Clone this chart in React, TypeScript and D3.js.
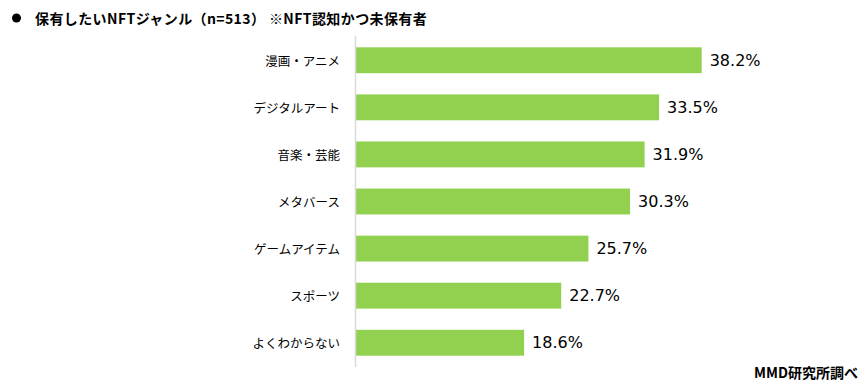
import * as d3 from 'd3';
import { useEffect, useRef } from 'react';

const categories = [
  '漫画・アニメ',
  'デジタルアート',
  '音楽・芸能',
  'メタバース',
  'ゲームアイテム',
  'スポーツ',
  'よくわからない',
];
const values = [38.2, 33.5, 31.9, 30.3, 25.7, 22.7, 18.6];

const title = '保有したいNFTジャンル（n=513） ※NFT認知かつ未保有者';
const source = 'MMD研究所調べ';

const width = 868;
const height = 389;
const jpFont = '"Noto Sans CJK JP", "Noto Sans", sans-serif';

const App = () => {
  const ref = useRef<SVGSVGElement>(null);

  useEffect(() => {
    const svg = d3.select(ref.current);
    svg.selectAll('*').remove();

    const data = categories.map((c, i) => ({ category: c, value: values[i] }));

    const x = d3.scaleLinear().domain([0, 40]).range([355.5, 718]);

    const y = d3
      .scaleBand()
      .domain(categories)
      .range([36, 367])
      .paddingInner(0.45)
      .paddingOuter(0.24);

    // title
    svg
      .append('circle')
      .attr('cx', 16.5)
      .attr('cy', 18)
      .attr('r', 4.5)
      .attr('fill', '#000');
    svg
      .append('text')
      .attr('x', 35)
      .attr('y', 18)
      .attr('dominant-baseline', 'central')
      .attr('font-family', jpFont)
      .attr('font-weight', 'bold')
      .attr('font-size', 14)
      .attr('letter-spacing', 0.4)
      .attr('fill', '#000')
      .text(title);

    // bars
    svg
      .append('g')
      .selectAll('rect')
      .data(data)
      .join('rect')
      .attr('x', x(0))
      .attr('y', (d) => y(d.category))
      .attr('width', (d) => x(d.value) - x(0))
      .attr('height', y.bandwidth())
      .attr('fill', '#92d050');

    // axis line
    svg
      .append('line')
      .attr('x1', x(0))
      .attr('x2', x(0))
      .attr('y1', y.range()[0])
      .attr('y2', y.range()[1])
      .attr('stroke', '#d9d9d9')
      .attr('stroke-width', 1.5);

    // category labels
    svg
      .append('g')
      .selectAll('text')
      .data(data)
      .join('text')
      .attr('x', 340)
      .attr('y', (d) => y(d.category) + y.bandwidth() / 2)
      .attr('text-anchor', 'end')
      .attr('dominant-baseline', 'central')
      .attr('font-family', jpFont)
      .attr('font-size', 12.5)
      .attr('fill', '#000')
      .text((d) => d.category);

    // value labels
    svg
      .append('g')
      .selectAll('text')
      .data(data)
      .join('text')
      .attr('x', (d) => x(d.value) + 8)
      .attr('y', (d) => y(d.category) + y.bandwidth() / 2)
      .attr('dominant-baseline', 'central')
      .attr('font-family', '"DejaVu Sans", sans-serif')
      .attr('font-size', 16)
      .attr('fill', '#000')
      .text((d) => `${d.value.toFixed(1)}%`);

    // source
    svg
      .append('text')
      .attr('x', 858)
      .attr('y', 372)
      .attr('text-anchor', 'end')
      .attr('dominant-baseline', 'central')
      .attr('font-family', jpFont)
      .attr('font-weight', 'bold')
      .attr('font-size', 14)
      .attr('fill', '#000')
      .text(source);
  }, []);

  return (
    <svg
      ref={ref}
      width={width}
      height={height}
      style={{ position: 'absolute', left: 0, top: 0, background: '#fff' }}
    />
  );
};

export default App;
